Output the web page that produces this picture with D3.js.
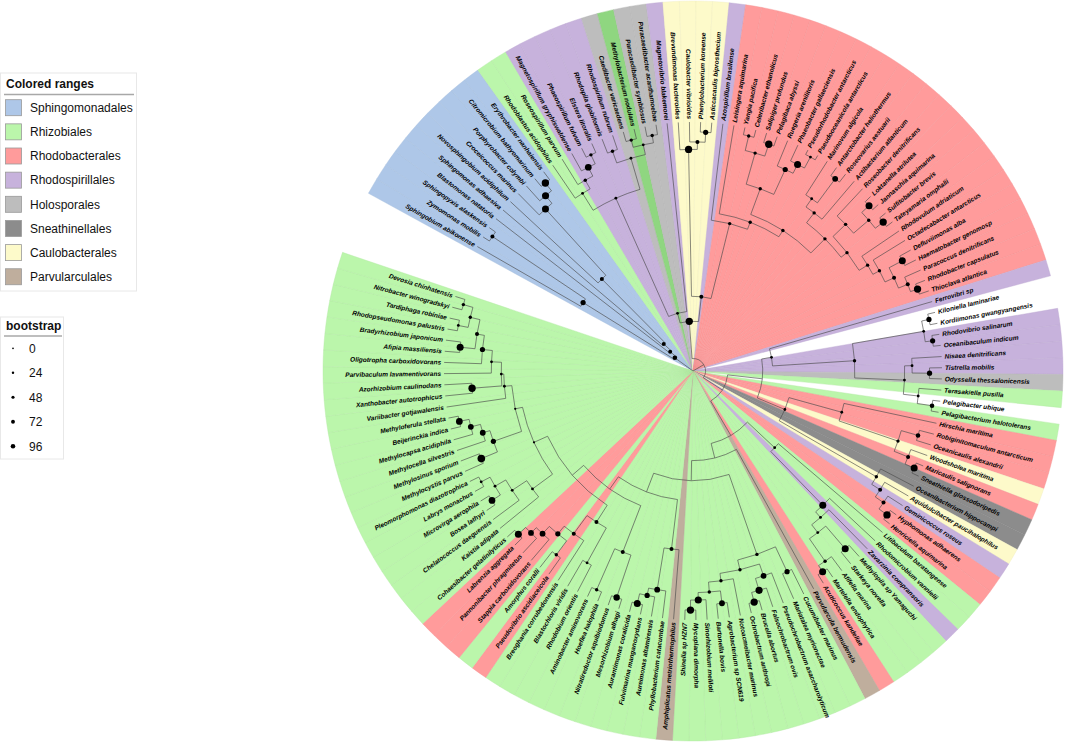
<!DOCTYPE html>
<html><head><meta charset="utf-8">
<script src="https://cdn.jsdelivr.net/npm/d3@7"></script>
<style>body{margin:0;background:#fff}svg{display:block}</style>
</head><body>
<svg id="c" width="1065" height="742"></svg>
<script>
// ---------------- DATA ----------------
const rangeNames = ["Sphingomonadales","Rhizobiales","Rhodobacterales","Rhodospirillales","Holosporales","Sneathinellales","Caulobacterales","Parvularculales"];
const rangeCodes = ["S","R","B","P","H","N","C","A"];
const bootstrapLegend = [0,24,48,72,96];

// leaves in clockwise order
const leafNames = ["Sphingobium abikonense","Zymomonas mobilis","Sphingopyxis alaskensis","Blastomonas natatoria","Sphingomonas adhaesiva","Novosphingobium acidiphilum","Croceicoccus marinus","Porphyrobacter colymbi","Citromicrobium bathyomarinum","Erythrobacter nanhaiensis",
"Rhodoblastus acidophilus","Roseospirillum parvum","Magnetospirillum gryphiswaldense","Phaeospirillum fulvum","Elstera litoralis","Rhodopila globiformis","Rhodospirillum rubrum","Caedibacter varicaedens","Methylobacterium nodulans","Paracaedibacter symbiosus","Paracaedibacter acanthamoebae","Magnetovibrio blakemorei",
"Brevundimonas bacteroides","Caulobacter vibrioides","Phenylobacterium koreense","Asticcacaulis biprosthecium","Azospirillum brasilense",
"Leisingera aquimarina","Yangia pacifica","Celeribacter ethanolicus","Salipiger profundus","Pelagibaca abyssi","Ruegeria arenilitoris","Phaeobacter gallaeciensis","Pseudorhodobacter antarcticus","Pseudooceanicola antarcticus","Marinovum algicola","Antarctobacter heliothermus","Roseovarius aestuarii","Actibacterium atlanticum","Roseobacter denitrificans","Loktanella atrilutea","Jannaschia aquimarina","Sulfitobacter brevis","Tateyamaria omphalii","Rhodovulum adriaticum","Octadecabacter antarcticus","Defluviimonas alba","Haematobacter genomosp","Paracoccus denitrificans","Rhodobacter capsulatus","Thioclava atlantica",
"Ferrovibri sp","Kiloniella laminariae","Kordiimonas gwangyangensis","Rhodovibrio salinarum","Oceanibaculum indicum","Nisaea denitrificans","Tistrella mobilis","Odyssella thessalonicensis","Terasakiella pusilla","Pelagibacter ubique","Pelagibacterium halotolerans",
"Hirschia maritima","Robiginitomaculum antarcticum","Oceanicaulis alexandrii","Woodsholea maritima","Maricaulis salignorans","Sneathiella glossodoripedis","Oceanibacterium hippocampi","Aquidulcibacter paucihalophilus","Geminicoccus roseus","Hyphomonas adhaerens","Henriciella aquimarina",
"Litibaculum baratangense","Rhodomicrobium vannielii","Zavarzinia compransoris","Methylopila sp Yamaguchi","Starkeya novella","Afifella marina","Martelella endophytica","Acuticoccus kandeliae","Parvularcula bermudensis",
"Cucumibacter marinus","Mariatalea myrionectae","Pseudochrobactrum asaccharolyticum","Falsochrobactrum ovis","Brucella abortus","Ochrobactrum anthropi","Notoacmeibacter marinus","Agrobacterium sp SCN619","Bartonella bovis","Sinorhizobium meliloti","Mycoplana dimorpha","Shinella sp HZN7",
"Amphiplicatus metriothermophilus","Phyllobacterium catacumbae","Aureimonas altamirensis","Fulvimarina manganoxydans","Aurantimonas coralicida","Mesorhizobium alhagi","Nitratireductor aquibiodomus","Hoeflea halophila","Aminobacter aminovorans","Rhodobium orientis","Blastochloris viridis","Breoghania corrubedonensis","Pseudovibrio ascidiaceicola","Amorphus coralli","Stappia carboxidovorans","Pannonibacter phragmitetus","Labrenzia aggregata","Cohaesibacter gelatinilyticus",
"Kaistia adipata","Chelatococcus daeguensis","Bosea lathyri","Microvirga aerophila","Labrys monachus","Pleomorphomonas diazotrophica","Methylocystis parvus","Methylosinus sporium","Methylocella silvestris","Methylocapsa acidiphila","Beijerinckia indica","Methyloferula stellata","Variibacter gotjawalensis","Xanthobacter autotrophicus","Azorhizobium caulinodans","Parvibaculum lavamentivorans","Oligotropha carboxidovorans","Afipia massiliensis","Bradyrhizobium japonicum","Rhodopseudomonas palustris","Tardiphaga robiniae","Nitrobacter winogradskyi","Devosia chinhatensis"];

// colored range of each leaf (same order); "-" = none, "G" = Rhizobiales overlapped
const leafRange = [
"S","S","S","S","S","S","S","S","S","S",
"R","R","P","P","P","P","P","H","G","H","H","P",
"C","C","C","C","P",
"B","B","B","B","B","B","B","B","B","B","B","B","B","B","B","B","B","B","B","B","B","B","B","B","B",
"P","-","-","P","P","P","P","H","R","-","R",
"B","B","B","C","B","N","N","C","P","B","B",
"R","R","P","R","R","R","R","B","A",
"R","R","R","R","R","R","R","R","R","R","R","R",
"A","R","R","R","R","R","R","R","R","R","R","R","B","R","B","B","B","R",
"R","R","R","R","R","R","R","R","R","R","R","R","R","R","R","R","R","R","R","R","R","R","R"];

// Tree topology (Newick). Internal node: "bootstrap:depth", depth = distance from root in % of tip depth
const nwSph = "((Sphingobium_abikonense,(Zymomonas_mobilis,Sphingopyxis_alaskensis)40:97)60:52,(Blastomonas_natatoria,(Sphingomonas_adhaesiva,(Novosphingobium_acidiphilum,(Croceicoccus_marinus,(Porphyrobacter_colymbi,(Citromicrobium_bathyomarinum,Erythrobacter_nanhaiensis)96:96)92:92)90:88)40:52)40:16)40:12)50:9";
const nwRsp = "(((Rhodoblastus_acidophilus,(Roseospirillum_parvum,(Magnetospirillum_gryphiswaldense,(Phaeospirillum_fulvum,Elstera_litoralis)30:96)85:92)30:88)20:84,((Rhodopila_globiformis,Rhodospirillum_rubrum)30:94,((Caedibacter_varicaedens,Methylobacterium_nodulans)30:96,(Paracaedibacter_symbiosus,Paracaedibacter_acanthamoebae)30:96)20:93)20:89)20:76,Magnetovibrio_blakemorei)20:24";
const nwCaul = "(Brevundimonas_bacteroides,(Caulobacter_vibrioides,(Phenylobacterium_koreense,Asticcacaulis_biprosthecium)60:96)40:92)95:89";
const nwRa = "((Yangia_pacifica,Celeribacter_ethanolicus)30:97,(Salipiger_profundus,Pelagibaca_abyssi)96:96)30:91";
const nwRb = "(Ruegeria_arenilitoris,(Phaeobacter_gallaeciensis,(Pseudorhodobacter_antarcticus,Pseudooceanicola_antarcticus)20:98)90:93)60:89";
const nwRc1 = "((Marinovum_algicola,(Antarctobacter_heliothermus,Roseovarius_aestuarii)70:96)20:84,Actibacterium_atlanticum)30:80";
const nwRc2 = "(Roseobacter_denitrificans,((Loktanella_atrilutea,Jannaschia_aquimarina)90:97,(Sulfitobacter_brevis,Tateyamaria_omphalii)96:97)30:93)30:85";
const nwRc3 = "(Rhodovulum_adriaticum,(Octadecabacter_antarcticus,((Defluviimonas_alba,Haematobacter_genomosp)90:95,(Paracoccus_denitrificans,(Rhodobacter_capsulatus,Thioclava_atlantica)95:96)40:93)40:89)30:85)30:82";
const nwRga = "(Ferrovibri_sp,(((Kiloniella_laminariae,Kordiimonas_gwangyangensis)60:97,(Rhodovibrio_salinarum,Oceanibaculum_indicum)60:97)20:94,((Nisaea_denitrificans,(Tistrella_mobilis,Odyssella_thessalonicensis)60:95)20:88,(Terasakiella_pusilla,(Pelagibacter_ubique,Pelagibacterium_halotolerans)50:97)20:91)20:85)30:65)20:32";
const nwRgb = "((Hirschia_maritima,((Robiginitomaculum_antarcticum,Oceanicaulis_alexandrii)50:94,(Woodsholea_maritima,(Maricaulis_salignorans,Sneathiella_glossodoripedis)90:97)40:93)30:87)20:62,(Oceanibacterium_hippocampi,(Aquidulcibacter_paucihalophilus,(Geminicoccus_roseus,(Hyphomonas_adhaerens,Henriciella_aquimarina)95:97)40:93)40:89)30:85)20:40";
const nwLra = "(Litibaculum_baratangense,(Rhodomicrobium_vannielii,(Zavarzinia_compransoris,((Methylopila_sp_Yamaguchi,Starkeya_novella)90:94,(Afifella_marina,(Martelella_endophytica,Acuticoccus_kandeliae)90:96)30:93)20:82)20:78)90:75)20:45";
const nwLr3 = "((Cucumibacter_marinus,Mariatalea_myrionectae)60:89,((Pseudochrobactrum_asaccharolyticum,(Falsochrobactrum_ovis,(Brucella_abortus,Ochrobactrum_anthropi)95:96)92:92)70:87,(Notoacmeibacter_marinus,((Agrobacterium_sp_SCN619,Bartonella_bovis)70:94,(Sinorhizobium_meliloti,(Mycoplana_dimorpha,Shinella_sp_HZN7)95:96)92:92)30:89)30:85)30:82)30:78";
const nwBla = "(Amphiplicatus_metriothermophilus,(Phyllobacterium_catacumbae,(Aureimonas_altamirensis,(Fulvimarina_manganoxydans,Aurantimonas_coralicida)90:96)60:92)70:89)40:72";
const nwBlb = "((Mesorhizobium_alhagi,Nitratireductor_aquibiodomus)80:96,(Hoeflea_halophila,Aminobacter_aminovorans)30:96)40:78";
const nwBld = "((Rhodobium_orientis,Blastochloris_viridis)20:88,(Breoghania_corrubedonensis,((Pseudovibrio_ascidiaceicola,Amorphus_coralli)30:92,(Stappia_carboxidovorans,(Pannonibacter_phragmitetus,(Labrenzia_aggregata,Cohaesibacter_gelatinilyticus)90:96)70:92)70:89)60:85)40:81)40:72";
const nwLeft = "((Kaistia_adipata,(Chelatococcus_daeguensis,((Bosea_lathyri,Microvirga_aerophila)85:96,(Labrys_monachus,Pleomorphomonas_diazotrophica)20:96)20:92)20:87)20:80,(((Methylocystis_parvus,Methylosinus_sporium)100:92,(Methylocella_silvestris,(Methylocapsa_acidiphila,(Beijerinckia_indica,Methyloferula_stellata)85:96)70:92)70:88)60:85,(Variibacter_gotjawalensis,((Xanthobacter_autotrophicus,Azorhizobium_caulinodans)95:89,(Parvibaculum_lavamentivorans,(Oligotropha_carboxidovorans,((Afipia_massiliensis,Bradyrhizobium_japonicum)90:94,((Rhodopseudomonas_palustris,Tardiphaga_robiniae)20:96,(Nitrobacter_winogradskyi,Devosia_chinhatensis)30:96)30:92)40:88)60:85)20:81)20:77)20:76)10:73)10:70";

const nwTop = `(${nwRsp},(${nwCaul},(Azospirillum_brasilense,(Leisingera_aquimarina,((${nwRa},${nwRb})30:78,(${nwRc1},(${nwRc2},${nwRc3})30:78)30:75)30:67)30:64)30:61)40:30)95:20`;
const nwRight = `(${nwRga},${nwRgb}):28`;
const nwLower = `(${nwLra},(Parvularcula_bermudensis,(${nwLr3},(${nwBla},(${nwBlb},(${nwBld},${nwLeft}):64):58):52):44):36):30`;
const treeNewick = `(${nwSph},(${nwTop},(${nwRight},${nwLower}):14):5):0;`;

// ---------------- STYLE ----------------
const rangeColor = {S:"#aec7e8",R:"#bbf6ab",B:"#ff9b9b",P:"#c7b2dc",H:"#bdbdbd",N:"#8c8c8c",C:"#fdfaca",A:"#bfae9d",G:"#8fd680"};
const cx = 693, cy = 371, Rleaf = 249, Rout = 370, labelR = 252;
const FONT = "'Liberation Sans', Arial, Helvetica, sans-serif";

// ---------------- PARSE ----------------
function parseNewick(s){
  let i = 0;
  function node(){
    const n = {};
    if (s[i] === "("){
      i++; n.children = [];
      while (true){ n.children.push(node()); if (s[i] === ","){ i++; continue; } break; }
      i++; // ')'
    }
    let name = "";
    while (i < s.length && !",():;".includes(s[i])) name += s[i++];
    if (s[i] === ":"){ i++; let num = ""; while (i < s.length && !",();".includes(s[i])) num += s[i++]; n.depth = +num; }
    if (n.children) n.bs = name === "" ? null : +name; else n.name = name.replace(/_/g, " ");
    return n;
  }
  return node();
}

const svg = d3.select("#c");
const g = svg.append("g").attr("transform", `translate(${cx},${cy})`);

const angle = d3.scaleBand().domain(leafNames).range([-61.3, 288.7]); // degrees, clockwise from 12 o'clock
const rad = d3.scaleLinear().domain([0, 100]).range([0, Rleaf]);
const rangeOf = new Map(leafNames.map((n, i) => [n, leafRange[i]]));
const toRad = a => a * Math.PI / 180;
const xy = (a, r) => [r * Math.sin(toRad(a)), -r * Math.cos(toRad(a))];

// ---- colored ranges (wedges) ----
const arcGen = d3.arc().innerRadius(0).outerRadius(Rout);
g.append("g").selectAll("path").data(leafNames.filter(n => rangeOf.get(n) !== "-")).join("path")
  .attr("d", n => arcGen({startAngle: toRad(angle(n)), endAngle: toRad(angle(n) + angle.bandwidth())}))
  .attr("fill", n => rangeColor[rangeOf.get(n)])
  .attr("stroke", n => d3.color(rangeColor[rangeOf.get(n)]).darker(0.15))
  .attr("stroke-width", 0.4);

// ---- tree ----
const root = d3.hierarchy(parseNewick(treeNewick));
root.each(d => { d.r = d.children ? rad(d.data.depth) : rad(100); });
root.eachAfter(d => { d.a = d.children ? d3.mean(d.children, c => c.a) : angle(d.data.name) + angle.bandwidth() / 2; });

const lines = g.append("g").attr("fill", "none").attr("stroke", "#4a4a4a").attr("stroke-width", 0.65);
root.descendants().forEach(d => {
  if (d.parent){
    const p0 = xy(d.a, d.parent.r), p1 = xy(d.a, d.r);
    lines.append("line").attr("x1", p0[0]).attr("y1", p0[1]).attr("x2", p1[0]).attr("y2", p1[1]);
  }
  if (d.children && d.r > 0){
    const a1 = d3.min(d.children, c => c.a), a2 = d3.max(d.children, c => c.a);
    const p = d3.path(); p.arc(0, 0, d.r, toRad(a1 - 90), toRad(a2 - 90));
    lines.append("path").attr("d", p.toString());
  }
});

const dotR = v => 0.8 + v * 0.03;
g.append("g").selectAll("circle").data(root.descendants().filter(d => d.children && d.data.bs != null)).join("circle")
  .attr("cx", d => xy(d.a, d.r)[0]).attr("cy", d => xy(d.a, d.r)[1])
  .attr("r", d => dotR(d.data.bs)).attr("fill", "#000");

// ---- labels ----
g.append("g").selectAll("text").data(root.leaves()).join("text")
  .attr("transform", d => {
    const a = (d.a + 360) % 360;
    return a > 180 ? `rotate(${a - 90}) translate(${labelR},0) rotate(180)` : `rotate(${a - 90}) translate(${labelR},0)`;
  })
  .attr("text-anchor", d => ((d.a + 360) % 360) > 180 ? "end" : "start")
  .attr("dy", "0.35em")
  .style("font-family", FONT).style("font-size", "6.5px").style("font-weight", "bold").style("font-style", "italic")
  .attr("fill", "#000")
  .text(d => d.data.name);

// ---- legends ----
const lg = svg.append("g");
lg.append("rect").attr("x", 0.5).attr("y", 73).attr("width", 136).attr("height", 218).attr("fill", "#fff").attr("stroke", "#e8e8e8");
lg.append("text").attr("x", 6).attr("y", 87.5).text("Colored ranges").style("font-family", FONT).style("font-size", "12px").style("font-weight", "bold").attr("fill", "#111");
lg.append("line").attr("x1", 4).attr("x2", 134).attr("y1", 94.5).attr("y2", 94.5).attr("stroke", "#a8a8a8").attr("stroke-width", 1.5);
rangeNames.forEach((n, i) => {
  const y = 107.7 + 24.15 * i;
  lg.append("rect").attr("x", 5.5).attr("y", y - 8).attr("width", 16).attr("height", 16).attr("fill", rangeColor[rangeCodes[i]]).attr("stroke", "#999").attr("stroke-width", 0.8);
  lg.append("text").attr("x", 30).attr("y", y + 4.3).text(n).style("font-family", FONT).style("font-size", "12px").attr("fill", "#111");
});
lg.append("rect").attr("x", 0.5).attr("y", 317).attr("width", 63).attr("height", 142).attr("fill", "#fff").attr("stroke", "#e8e8e8");
lg.append("text").attr("x", 6).attr("y", 329.5).text("bootstrap").style("font-family", FONT).style("font-size", "12px").style("font-weight", "bold").attr("fill", "#111");
lg.append("line").attr("x1", 4).attr("x2", 62).attr("y1", 336).attr("y2", 336).attr("stroke", "#a8a8a8").attr("stroke-width", 1.5);
bootstrapLegend.forEach((v, i) => {
  const y = 348.3 + 24.5 * i;
  lg.append("circle").attr("cx", 13).attr("cy", y).attr("r", 0.85 + v * 0.015).attr("fill", "#000");
  lg.append("text").attr("x", 29).attr("y", y + 4.3).text(v).style("font-family", FONT).style("font-size", "12px").attr("fill", "#111");
});
</script>
</body></html>
